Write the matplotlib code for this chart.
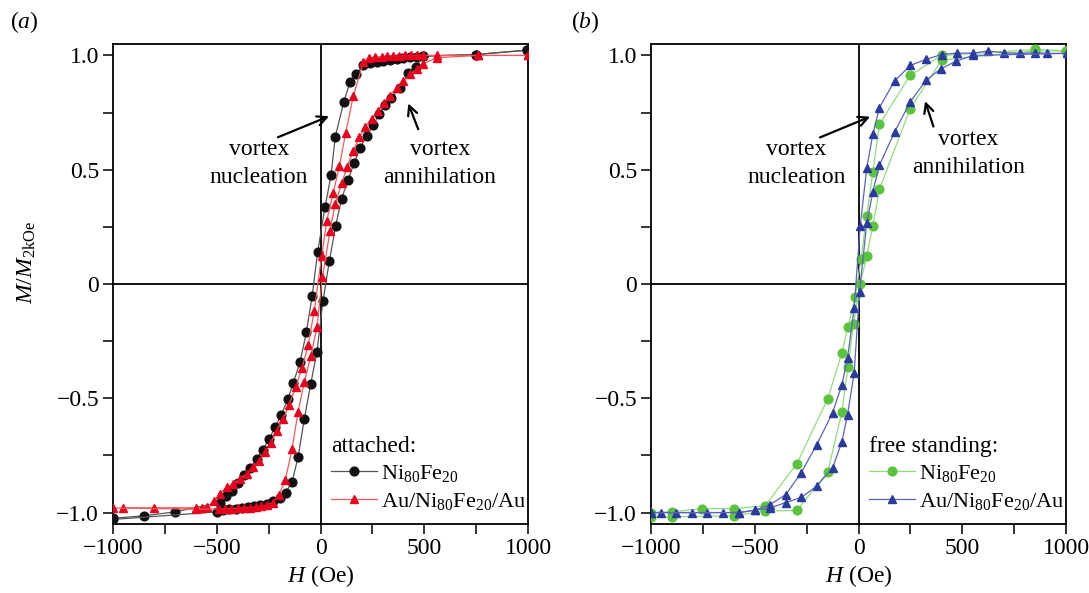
import numpy as np
import matplotlib.pyplot as plt
from matplotlib.ticker import MultipleLocator

plt.rcParams['font.family'] = ['Liberation Serif', 'DejaVu Serif']
plt.rcParams['mathtext.fontset'] = 'custom'
plt.rcParams['mathtext.rm'] = 'Liberation Serif'
plt.rcParams['mathtext.it'] = 'Liberation Serif:italic'
plt.rcParams['font.size'] = 17

# (a) attached, Ni80Fe20 (black circles)
a_ni_dn_h = [994, 749, 495, 463, 431, 399, 367, 335, 303, 271, 239, 207, 171, 142, 112, 71, 51, 22, -14, -40,
             -68, -99, -131, -158, -189, -218, -248, -279, -307, -338, -367, -398, -427, -457, -486, -701, -849, -1000]
a_ni_dn_m = [1.023, 1.004, 0.997, 0.994, 0.991, 0.987, 0.983, 0.980, 0.975, 0.971, 0.965, 0.956, 0.920, 0.883, 0.796,
             0.643, 0.476, 0.338, 0.138, -0.051, -0.211, -0.342, -0.434, -0.505, -0.572, -0.626, -0.677, -0.728,
             -0.764, -0.803, -0.837, -0.869, -0.904, -0.927, -0.956, -0.997, -1.014, -1.025]
a_ni_up_h = [-1000, -500, -470, -440, -409, -380, -349, -320, -290, -259, -227, -197, -168, -137, -108, -78, -47, -17,
             12, 43, 73, 102, 133, 163, 190, 222, 255, 282, 311, 340, 383, 423, 460, 495, 749, 994]
a_ni_up_m = [-1.03, -0.997, -0.990, -0.986, -0.983, -0.979, -0.975, -0.973, -0.965, -0.961, -0.951, -0.936, -0.913,
             -0.866, -0.757, -0.590, -0.437, -0.296, -0.073, 0.102, 0.255, 0.374, 0.456, 0.531, 0.593, 0.648, 0.696,
             0.742, 0.782, 0.815, 0.856, 0.924, 0.949, 0.997, 1.004, 1.023]

# (a) attached, Au/Ni80Fe20/Au (red triangles)
a_au_dn_h = [1000, 760, 560, 495, 466, 437, 408, 379, 350, 321, 294, 265, 236, 207, 158, 121, 91, 62, 30, 6, -30,
             -60, -89, -120, -152, -179, -211, -239, -267, -296, -327, -356, -388, -420, -452, -484, -513, -548,
             -573, -600, -801, -950]
a_au_dn_m = [1.0, 1.0, 1.0, 1.0, 1.0, 1.0, 1.0, 0.998, 0.997, 0.996, 0.995, 0.993, 0.99, 0.972, 0.822, 0.659, 0.517,
             0.400, 0.277, 0.124, -0.117, -0.269, -0.368, -0.451, -0.531, -0.590, -0.641, -0.694, -0.735, -0.776,
             -0.801, -0.830, -0.852, -0.873, -0.888, -0.917, -0.951, -0.975, -0.979, -0.979, -0.979, -0.979]
a_au_up_h = [-1000, -600, -490, -460, -430, -400, -370, -340, -310, -285, -259, -230, -201, -170, -137, -108, -78,
             -47, -17, 9, 46, 70, 102, 129, 158, 187, 216, 247, 276, 306, 335, 367, 399, 431, 463, 495, 560, 760, 1000]
a_au_up_m = [-0.98, -0.985, -0.985, -0.984, -0.983, -0.982, -0.980, -0.978, -0.975, -0.972, -0.968, -0.956, -0.924,
             -0.859, -0.721, -0.558, -0.429, -0.316, -0.189, 0.029, 0.233, 0.349, 0.440, 0.514, 0.582, 0.641, 0.689,
             0.723, 0.757, 0.790, 0.822, 0.859, 0.888, 0.917, 0.939, 0.964, 0.99, 1.0, 1.0]

# (b) free standing, Ni80Fe20 (green circles)
b_ni_dn_h = [1000, 852, 401, 249, 101, 69, 40, 12, -16, -51, -80, -148, -297, -450, -602, -755, -900, -1000]
b_ni_dn_m = [1.02, 1.026, 1.0, 0.913, 0.699, 0.488, 0.298, 0.109, -0.058, -0.186, -0.301, -0.502, -0.786, -0.97,
             -0.983, -0.983, -0.997, -1.0]
b_ni_up_h = [-1000, -900, -602, -450, -297, -148, -80, -51, -24, 8, 40, 69, 101, 249, 401, 852, 1000]
b_ni_up_m = [-1.02, -1.019, -1.014, -0.994, -0.990, -0.822, -0.560, -0.364, -0.175, -0.001, 0.124, 0.255, 0.415,
             0.767, 0.980, 1.02, 1.02]

# (b) free standing, Au/Ni80Fe20/Au (blue triangles)
b_au_dn_h = [1004, 909, 852, 777, 699, 624, 551, 474, 401, 326, 249, 174, 101, 69, 40, 8, -21, -53, -80, -125, -201,
             -276, -350, -426, -501, -575, -651, -728, -803, -879, -952, -1000]
b_au_dn_m = [1.009, 1.009, 1.012, 1.009, 1.012, 1.019, 1.01, 1.01, 1.004, 0.983, 0.956, 0.888, 0.772, 0.655, 0.509,
             0.252, -0.106, -0.325, -0.441, -0.563, -0.703, -0.825, -0.921, -0.965, -0.990, -1.0, -1.0, -1.0, -1.0,
             -1.0, -1.0, -1.0]
b_au_up_h = [-1000, -575, -501, -426, -350, -276, -201, -125, -80, -53, -21, 5, 40, 69, 101, 174, 249, 326, 398, 471,
             551, 1004]
b_au_up_m = [-1.0, -1.0, -0.990, -0.980, -0.956, -0.934, -0.884, -0.805, -0.691, -0.572, -0.390, -0.033, 0.269,
             0.403, 0.520, 0.665, 0.796, 0.892, 0.942, 0.975, 1.0, 1.009]

ni_label = r'Ni$_{80}$Fe$_{20}$'
au_label = r'Au/Ni$_{80}$Fe$_{20}$/Au'


def branch(ax, h, m, line_c, mark_c, marker, label=None):
    ax.plot(h, m, color=line_c, lw=0.9, marker=marker, ms=6.3, mfc=mark_c, mec=mark_c,
            label=label, zorder=3)


fig = plt.figure(figsize=(10.89, 5.93), dpi=100)
ax1 = fig.add_axes([113 / 1089, 1 - 524 / 593, 415 / 1089, 480 / 593])
ax2 = fig.add_axes([651 / 1089, 1 - 524 / 593, 415 / 1089, 480 / 593])

branch(ax1, a_ni_dn_h, a_ni_dn_m, '#555555', '#111111', 'o', ni_label)
branch(ax1, a_ni_up_h, a_ni_up_m, '#555555', '#111111', 'o')
branch(ax1, a_au_dn_h, a_au_dn_m, '#ef5a5a', '#e8001c', '^', au_label)
branch(ax1, a_au_up_h, a_au_up_m, '#ef5a5a', '#e8001c', '^')

branch(ax2, b_ni_dn_h, b_ni_dn_m, '#8fdc7c', '#5cc43c', 'o', ni_label)
branch(ax2, b_ni_up_h, b_ni_up_m, '#8fdc7c', '#5cc43c', 'o')
branch(ax2, b_au_dn_h, b_au_dn_m, '#5a63c0', '#2b3a9e', '^', au_label)
branch(ax2, b_au_up_h, b_au_up_m, '#5a63c0', '#2b3a9e', '^')

for ax in (ax1, ax2):
    ax.axhline(0, color='black', lw=1.3, zorder=1)
    ax.axvline(0, color='black', lw=1.3, zorder=1)
    ax.set_xlim(-1000, 1000)
    ax.set_ylim(-1.05, 1.05)
    ax.set_xticks([-1000, -500, 0, 500, 1000])
    ax.set_xticklabels(['\u22121000', '\u2212500', '0', '500', '1000'])
    ax.set_yticks([-1, -0.5, 0, 0.5, 1])
    ax.set_yticklabels(['\u22121.0', '\u22120.5', '0', '0.5', '1.0'])
    ax.xaxis.set_minor_locator(MultipleLocator(250))
    ax.yaxis.set_minor_locator(MultipleLocator(0.25))
    ax.tick_params(which='both', direction='out', length=7, width=1.1, top=False, right=False, pad=3)
    for s in ax.spines.values():
        s.set_linewidth(1.3)
    ax.set_xlabel(r'$H$ (Oe)', labelpad=3)

ax1.set_ylabel(r'$M/M_{\mathrm{2kOe}}$')
ax1.yaxis.set_label_coords(-0.181, 0.546)

arrow = dict(arrowstyle='->', color='black', lw=1.6, mutation_scale=17, shrinkA=0, shrinkB=0)
txt = dict(ha='center', va='center', linespacing=1.45)

ax1.text(-296, 0.526, 'vortex\nnucleation', **txt)
ax1.annotate('', xy=(41, 0.734), xytext=(-205, 0.642), arrowprops=arrow)
ax1.text(576, 0.526, 'vortex\nannihilation', **txt)
ax1.annotate('', xy=(423, 0.79), xytext=(471, 0.677), arrowprops=arrow)

ax2.text(-300, 0.526, 'vortex\nnucleation', **txt)
ax2.annotate('', xy=(56, 0.732), xytext=(-186, 0.641), arrowprops=arrow)
ax2.text(530, 0.572, 'vortex\nannihilation', **txt)
ax2.annotate('', xy=(321, 0.80), xytext=(361, 0.689), arrowprops=arrow)

for ax, title in ((ax1, 'attached:'), (ax2, 'free standing:')):
    leg = ax.legend(loc='lower left', bbox_to_anchor=(0.514, 0.016), borderaxespad=0, frameon=False,
                    title=title, alignment='left', numpoints=1, handlelength=2.1, handletextpad=0.15,
                    labelspacing=0.3, borderpad=0.2, fontsize=16, title_fontsize=17)

fig.text(10 / 1089, 1 - 22 / 593, r'($a$)', fontsize=17, va='center', ha='left')
fig.text(571 / 1089, 1 - 22 / 593, r'($b$)', fontsize=17, va='center', ha='left')

fig.savefig('out.png', dpi=100)
